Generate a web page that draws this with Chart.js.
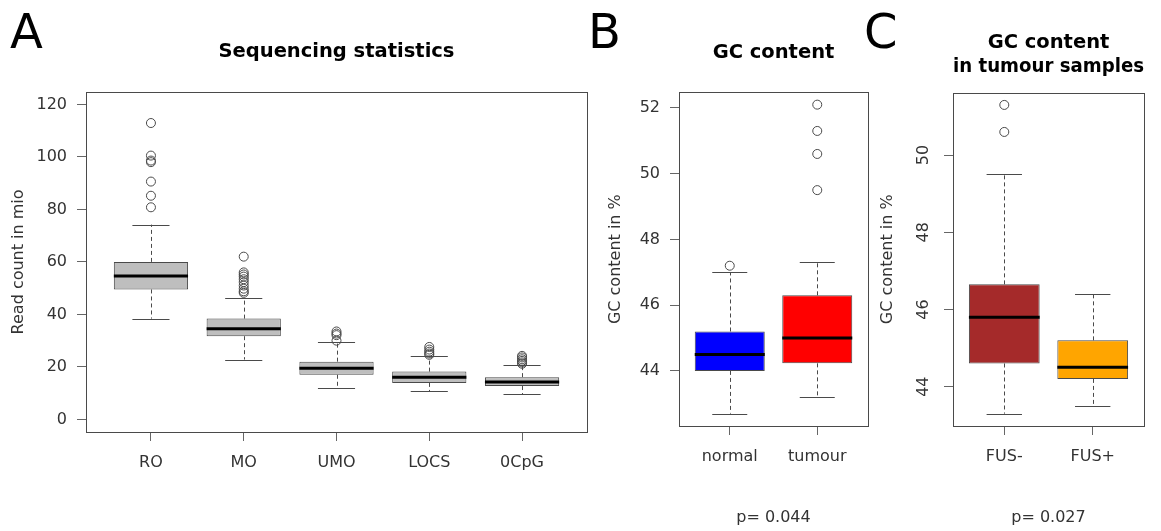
<!DOCTYPE html>
<html>
<head>
<meta charset="utf-8">
<script src="https://cdn.jsdelivr.net/npm/chart.js@4.4.1/dist/chart.umd.min.js"></script>
<style>
  body { margin: 0; background: #fff; }
  #wrap { position: relative; width: 1161px; height: 531px; }
  #wrap canvas { position: absolute; left: 0; top: 0; }
</style>
</head>
<body>
<div id="wrap">
  <canvas id="seq-stats" width="1161" height="531"></canvas>
  <canvas id="gc-content" width="1161" height="531"></canvas>
  <canvas id="gc-tumour" width="1161" height="531"></canvas>
</div>
<script>
// A: read counts per fraction (million reads)
const seqLabels = ['RO', 'MO', 'UMO', 'LOCS', '0CpG'];
const seqLow = [38.4, 22.8, 11.9, 10.8, 9.5];
const seqQ1 = [49.5, 31.7, 17.0, 13.9, 12.7];
const seqMedian = [54.6, 34.5, 19.5, 16.1, 14.2];
const seqQ3 = [60.0, 38.4, 22.0, 18.2, 16.1];
const seqHigh = [74.2, 46.1, 29.3, 24.3, 20.6];
const seqOutliers = [
  [112.9, 100.5, 98.6, 98.0, 90.6, 85.2, 80.8],
  [62.0, 56.0, 55.2, 54.4, 53.4, 52.3, 51.0, 49.8, 48.8, 48.2],
  [33.5, 32.7, 32.1, 30.0],
  [27.6, 26.6, 25.8, 25.1, 24.6],
  [24.2, 23.6, 22.9, 22.3, 21.7, 21.2]
];
const seqTicks = [0, 20, 40, 60, 80, 100, 120];

// B: GC content, normal vs tumour
const gcLabels = ['normal', 'tumour'];
const gcLow = [42.7, 43.2];
const gcQ1 = [44.0, 44.23];
const gcMedian = [44.5, 45.0];
const gcQ3 = [45.2, 46.3];
const gcHigh = [47.0, 47.3];
const gcOutliers = [[47.2], [52.1, 51.3, 50.6, 49.5]];
const gcTicks = [44, 46, 48, 50, 52];

// C: GC content in tumour samples by FUS status
const fusLabels = ['FUS-', 'FUS+'];
const fusLow = [43.3, 43.5];
const fusQ1 = [44.6, 44.2];
const fusMedian = [45.8, 44.5];
const fusQ3 = [46.65, 45.2];
const fusHigh = [49.5, 46.4];
const fusOutliers = [[51.3, 50.6], []];
const fusTicks = [44, 46, 48, 50];

const FONT = '"DejaVu Sans", Verdana, sans-serif';
const LINE = '#4a4a4a';

// whiskers, caps and medians on top of the floating bars, plus the plot frame
const boxplotParts = {
  id: 'boxplotParts',
  afterDatasetsDraw(chart, args, o) {
    const {ctx, scales: {x, y}} = chart;
    const seg = (x1, y1, x2, y2) => {
      ctx.beginPath(); ctx.moveTo(x1, y1); ctx.lineTo(x2, y2); ctx.stroke();
    };
    ctx.save();
    o.median.forEach((m, i) => {
      const c = i + 1;
      const xc = Math.round(x.getPixelForValue(c)) + 0.5;
      ctx.strokeStyle = LINE;
      ctx.lineWidth = 1;
      ctx.setLineDash([4, 3]);
      seg(xc, y.getPixelForValue(o.q3[i]), xc, y.getPixelForValue(o.high[i]));
      seg(xc, y.getPixelForValue(o.q1[i]), xc, y.getPixelForValue(o.low[i]));
      ctx.setLineDash([]);
      ctx.lineWidth = 1.2;
      const capL = x.getPixelForValue(c - o.boxWidth / 4);
      const capR = x.getPixelForValue(c + o.boxWidth / 4);
      const yh = Math.round(y.getPixelForValue(o.high[i])) + 0.5;
      const yl = Math.round(y.getPixelForValue(o.low[i])) + 0.5;
      seg(capL, yh, capR, yh);
      seg(capL, yl, capR, yl);
      ctx.strokeStyle = '#000';
      ctx.lineWidth = 3;
      const ym = y.getPixelForValue(m);
      seg(x.getPixelForValue(c - o.boxWidth / 2), ym, x.getPixelForValue(c + o.boxWidth / 2), ym);
    });
    ctx.restore();
  },
  afterDraw(chart, args, o) {
    const {ctx, chartArea: a} = chart;
    ctx.save();
    ctx.strokeStyle = LINE;
    ctx.lineWidth = 1;
    ctx.strokeRect(Math.round(a.left) + 0.5, Math.round(a.top) + 0.5,
      Math.round(a.right - a.left), Math.round(a.bottom - a.top));
    ctx.fillStyle = '#000';
    ctx.font = '48px ' + FONT;
    ctx.textBaseline = 'alphabetic';
    ctx.fillText(o.letter, o.letterX, o.letterY);
    ctx.restore();
  }
};

function boxChart(id, p) {
  const outliers = p.outliers.flatMap((vals, i) => vals.map(v => ({x: i + 1, y: v})));
  return new Chart(document.getElementById(id).getContext('2d'), {
    type: 'bar',
    data: {
      datasets: [{
        data: p.labels.map((l, i) => ({x: i + 1, y: [p.q1[i], p.q3[i]]})),
        backgroundColor: p.colors,
        borderColor: LINE,
        borderWidth: 1,
        borderSkipped: false,
        barPercentage: 0.8,
        categoryPercentage: 1
      }, {
        type: 'scatter',
        data: outliers,
        pointStyle: 'circle',
        pointRadius: 4.5,
        borderColor: LINE,
        backgroundColor: 'rgba(0,0,0,0)',
        borderWidth: 1
      }]
    },
    options: {
      responsive: false,
      animation: false,
      events: [],
      layout: {padding: p.padding},
      plugins: {
        legend: {display: false},
        tooltip: {enabled: false},
        title: {
          display: true,
          text: p.title,
          fullSize: false,
          color: '#000',
          font: {family: FONT, size: 19.5, weight: 'bold', lineHeight: 1.22},
          padding: p.titlePadding
        },
        boxplotParts: {
          low: p.low, q1: p.q1, median: p.median, q3: p.q3, high: p.high,
          boxWidth: 0.8, letter: p.letter, letterX: p.letterX, letterY: 48
        }
      },
      scales: {
        x: {
          type: 'linear',
          min: 0.5 - 0.04 * p.labels.length,
          max: p.labels.length + 0.5 + 0.04 * p.labels.length,
          offset: false,
          afterBuildTicks: s => { s.ticks = p.labels.map((l, i) => ({value: i + 1})); },
          afterFit: s => { s.height = p.xHeight; },
          grid: {drawOnChartArea: false, drawTicks: true, tickLength: 9, color: '#666', offset: false},
          border: {display: false},
          ticks: {
            autoSkip: false, maxRotation: 0, padding: 12, color: '#333',
            font: {family: FONT, size: 16},
            callback: v => p.labels[v - 1]
          },
          title: {
            display: !!p.pValue,
            text: p.pValue || '',
            color: '#333',
            font: {family: FONT, size: 16},
            padding: {top: 0, bottom: 4}
          }
        },
        y: {
          min: p.yMin,
          max: p.yMax,
          afterBuildTicks: s => { s.ticks = p.ticks.map(v => ({value: v})); },
          afterFit: s => { s.width = p.yWidth; },
          grid: {drawOnChartArea: false, drawTicks: true, tickLength: 9, color: '#666'},
          border: {display: false},
          ticks: Object.assign({
            padding: 10, color: '#333',
            font: {family: FONT, size: 16}
          }, p.yTickExtra || {}),
          title: {
            display: true,
            text: p.yTitle,
            color: '#333',
            font: {family: FONT, size: 16},
            padding: 0
          }
        }
      }
    },
    plugins: [boxplotParts]
  });
}

boxChart('seq-stats', {
  labels: seqLabels, low: seqLow, q1: seqQ1, median: seqMedian, q3: seqQ3, high: seqHigh,
  outliers: seqOutliers, ticks: seqTicks,
  colors: seqLabels.map(() => '#bebebe'),
  title: 'Sequencing statistics', yTitle: 'Read count in mio',
  yMin: -4.8, yMax: 124.8,
  letter: 'A', letterX: 10,
  padding: {left: 9, right: 574, top: 0, bottom: 0},
  titlePadding: {top: 40, bottom: 28},
  yWidth: 77, xHeight: 99
});

boxChart('gc-content', {
  labels: gcLabels, low: gcLow, q1: gcQ1, median: gcMedian, q3: gcQ3, high: gcHigh,
  outliers: gcOutliers, ticks: gcTicks,
  colors: ['#0000ff', '#ff0000'],
  title: 'GC content', yTitle: 'GC content in %', pValue: 'p= 0.044',
  yMin: 42.324, yMax: 52.476,
  letter: 'B', letterX: 588,
  padding: {left: 606, right: 293, top: 0, bottom: 0},
  titlePadding: {top: 41, bottom: 27.5},
  yWidth: 73, xHeight: 105
});

boxChart('gc-tumour', {
  labels: fusLabels, low: fusLow, q1: fusQ1, median: fusMedian, q3: fusQ3, high: fusHigh,
  outliers: fusOutliers, ticks: fusTicks,
  colors: ['#a52a2a', '#ffa500'],
  title: ['GC content', 'in tumour samples'], yTitle: 'GC content in %', pValue: 'p= 0.027',
  yMin: 42.98, yMax: 51.62,
  letter: 'C', letterX: 864,
  padding: {left: 878, right: 17, top: 0, bottom: 0},
  titlePadding: {top: 31, bottom: 14},
  yWidth: 75, xHeight: 105,
  yTickExtra: {minRotation: 90, maxRotation: 90, crossAlign: 'center'}
});
</script>
</body>
</html>
